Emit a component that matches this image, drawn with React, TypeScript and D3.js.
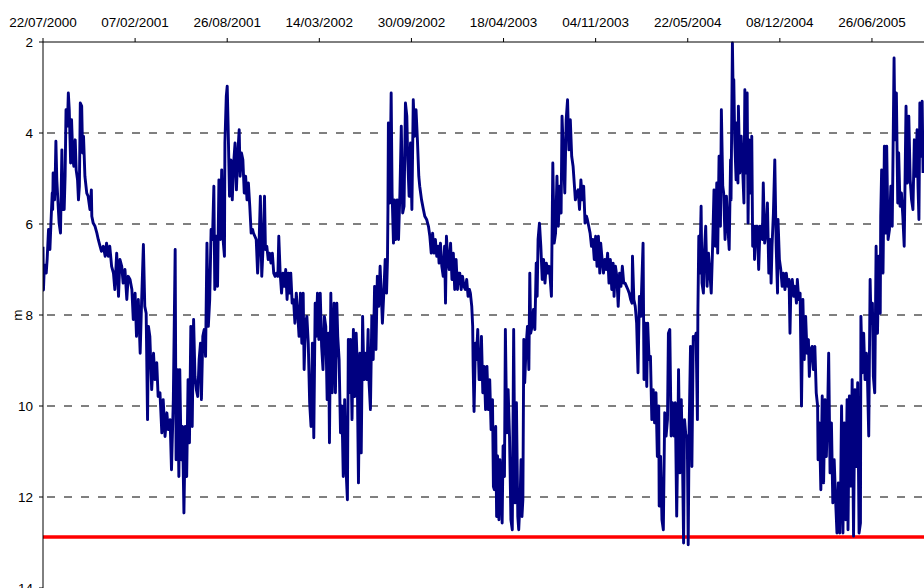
import React from "react";
import * as d3 from "d3";

// Groundwater level below surface (m), observation day counted from 22/07/2000
const startDate = new Date(Date.UTC(2000, 6, 22));
const spanDays = 1913;
const tickStepDays = 200;
const tickCount = 10;
const yTicks = [2, 4, 6, 8, 10, 12, 14];
const gridLevels = [4, 6, 8, 10, 12];
const thresholdLevel = 12.88;
const axisTitle = "m";

const levelsJul2000: [number, number][] = [
  [0, 6.5], [1, 7.45], [3, 6.9], [7, 7.08], [9, 6.78], [12, 6.12], [15, 6.56], [17, 6.05], [20, 5.32], [21, 5.68],
  [22, 4.88], [25, 5.47], [27, 4.73], [28, 4.18], [30, 5.03], [33, 5.61], [35, 5.98], [38, 6.2], [41, 4.37], [43, 5.68],
  [46, 5.68], [48, 4.95], [50, 3.49], [53, 3.85], [55, 3.12], [57, 3.49], [60, 4.66], [62, 3.71], [65, 4.59], [67, 4.73],
  [70, 4.15], [72, 4.81], [75, 5.03], [77, 5.47], [79, 5.17], [81, 3.34], [84, 3.41], [86, 4.44], [88, 4.07], [91, 4.95],
  [95, 5.32], [98, 5.39], [102, 5.68], [105, 5.25], [106, 5.83], [109, 5.98], [113, 6.05], [117, 6.2], [120, 6.34], [124, 6.49],
  [127, 6.6], [131, 6.49], [135, 6.71], [138, 6.42], [142, 6.71], [145, 6.49], [149, 6.93], [153, 7.08], [156, 7.44], [160, 6.64],
  [164, 7.59], [167, 6.78], [171, 6.93], [174, 7.3], [178, 7.0], [182, 7.66], [185, 7.15], [189, 7.22], [193, 7.44], [196, 8.1],
  [200, 7.52], [203, 8.47], [207, 7.66], [211, 8.84], [214, 7.74], [218, 6.45], [221, 7.81], [224, 7.96], [227, 10.3], [229, 8.25],
  [232, 8.47], [236, 9.64], [240, 8.84], [243, 9.42], [247, 9.05], [250, 9.79], [254, 9.71], [258, 10.59], [261, 9.86], [265, 10.67],
  [269, 10.15], [272, 10.52], [276, 10.3], [279, 11.4], [283, 9.86], [287, 6.56], [289, 11.18], [292, 9.2], [295, 11.55], [297, 9.2],
  [300, 11.18], [303, 10.45], [306, 12.35], [309, 10.45], [312, 11.55], [315, 9.42],
];

const levelsJun2001: [number, number][] = [
  [318, 10.81], [321, 8.25], [324, 10.45], [327, 8.1], [330, 9.35], [333, 9.64], [336, 9.79], [339, 8.98], [342, 8.62], [344, 9.86],
  [347, 8.47], [350, 8.32], [353, 8.91], [356, 6.42], [359, 8.25], [362, 7.66], [365, 6.12], [368, 6.34], [371, 5.17], [373, 7.44],
  [376, 6.27], [379, 7.37], [382, 5.03], [385, 6.34], [388, 4.81], [391, 6.34], [394, 6.71], [395, 4.22], [398, 3.19], [400, 2.97],
  [402, 3.85], [405, 5.39], [408, 4.59], [411, 5.47], [414, 4.66], [417, 4.22], [420, 5.25], [423, 4.44], [426, 3.93], [428, 4.95],
  [431, 4.44], [434, 4.59], [437, 5.32], [440, 4.95], [443, 5.47], [446, 5.1], [449, 5.61], [452, 6.2], [455, 6.12], [457, 6.2],
  [460, 6.27], [463, 6.34], [466, 7.08], [469, 6.49], [472, 5.39], [475, 7.15], [478, 6.49], [481, 5.39], [483, 6.56], [486, 6.49],
  [489, 6.78], [492, 6.64], [495, 6.86], [498, 6.64], [501, 7.08], [504, 7.15], [507, 7.08], [510, 7.15], [512, 6.27], [515, 7.08],
  [518, 7.52], [521, 7.08], [524, 7.37], [527, 7.0], [530, 7.66], [533, 7.08], [536, 7.52], [538, 7.08], [541, 7.74], [544, 7.66],
  [547, 8.18], [550, 7.52], [553, 7.96], [556, 8.47], [559, 7.52], [562, 8.62], [565, 7.52], [567, 9.2], [570, 8.18], [573, 8.03],
  [576, 8.62], [579, 9.93], [582, 10.45], [585, 8.62], [588, 10.7], [591, 7.74], [593, 8.47], [596, 7.52], [599, 8.54], [602, 7.52],
  [605, 8.69], [608, 9.2], [611, 8.03], [614, 8.25], [617, 9.86], [620, 8.4], [622, 10.81], [625, 7.52], [628, 9.71],
];

const levelsApr2002: [number, number][] = [
  [632, 7.74], [635, 9.71], [638, 7.74], [640, 8.47], [643, 8.98], [646, 10.59], [649, 10.0], [652, 11.55], [655, 9.86], [658, 11.4],
  [661, 12.06], [663, 8.54], [665, 9.71], [668, 8.54], [671, 10.3], [674, 8.32], [677, 9.79], [680, 8.4], [682, 8.98], [685, 11.69],
  [688, 8.84], [691, 11.03], [694, 8.03], [697, 9.42], [700, 8.84], [703, 9.42], [706, 8.32], [708, 9.49], [711, 10.08], [714, 8.03],
  [717, 8.98], [720, 7.37], [723, 8.76], [726, 7.15], [729, 7.81], [732, 6.93], [735, 7.66], [737, 8.18], [740, 7.52], [743, 6.78],
  [746, 7.52], [748, 6.78], [749, 5.68], [750, 3.78], [753, 5.54], [756, 3.12], [758, 5.32], [761, 6.42], [763, 5.47], [766, 6.34],
  [769, 5.47], [772, 6.34], [775, 5.32], [778, 3.85], [781, 5.76], [784, 5.61], [787, 3.34], [790, 3.63], [792, 4.59], [795, 5.39],
  [798, 4.22], [801, 5.68], [804, 3.27], [807, 4.07], [810, 3.49], [813, 4.15], [816, 4.95], [818, 5.17], [822, 5.47], [826, 5.68],
  [829, 5.83], [833, 5.9], [837, 6.05], [840, 6.27], [843, 6.64], [846, 6.2], [849, 6.64], [852, 6.34], [855, 6.71], [858, 6.49],
  [860, 6.86], [863, 6.42], [866, 6.93], [869, 7.15], [872, 6.49], [874, 7.74], [876, 6.27], [879, 6.78], [882, 7.0], [885, 6.42],
  [888, 7.22], [891, 6.64], [894, 7.44], [897, 6.78], [900, 7.44], [902, 7.08], [905, 7.08], [908, 7.44], [911, 7.15], [914, 7.37],
  [917, 7.44], [920, 7.22], [923, 7.59], [926, 7.44], [928, 7.52], [931, 7.81], [933, 8.25], [934, 9.13], [936, 10.12], [939, 8.62],
  [941, 8.98], [944, 8.32], [947, 9.42],
];

const levelsFeb2003: [number, number][] = [
  [950, 9.42], [952, 8.47], [955, 9.71], [958, 9.13], [961, 10.08], [964, 9.13], [967, 10.08], [970, 9.42], [973, 10.52], [976, 9.86],
  [978, 11.77], [980, 11.84], [983, 10.45], [985, 12.43], [987, 11.1], [990, 12.5], [992, 11.18], [994, 11.55], [997, 12.57], [999, 10.88],
  [1002, 11.55], [1004, 8.32], [1007, 10.59], [1010, 9.64], [1013, 10.67], [1016, 12.5], [1019, 12.72], [1022, 8.32], [1025, 12.13], [1028, 9.93],
  [1031, 12.43], [1033, 12.72], [1036, 12.06], [1038, 11.18], [1040, 12.43], [1042, 12.06], [1044, 8.54], [1046, 9.49], [1049, 8.69], [1052, 8.25],
  [1055, 9.2], [1057, 7.08], [1059, 8.4], [1062, 8.25], [1065, 7.88], [1068, 8.32], [1071, 6.86], [1073, 7.59], [1075, 6.34], [1078, 5.98],
  [1081, 6.49], [1084, 7.22], [1087, 6.78], [1090, 7.3], [1093, 6.86], [1096, 7.08], [1099, 6.93], [1101, 7.15], [1104, 7.59], [1107, 4.66],
  [1110, 6.42], [1113, 6.2], [1116, 4.95], [1119, 6.05], [1122, 5.17], [1125, 5.76], [1127, 3.63], [1130, 4.44], [1133, 5.32], [1136, 3.71],
  [1139, 3.27], [1142, 4.37], [1145, 3.71], [1148, 4.51], [1151, 4.73], [1154, 5.17], [1156, 5.47], [1159, 5.32], [1162, 5.25], [1165, 5.68],
  [1168, 5.03], [1171, 5.47], [1174, 5.17], [1177, 5.98], [1180, 5.83], [1182, 5.9], [1185, 6.05], [1188, 6.2], [1191, 6.49], [1194, 6.34],
  [1197, 6.78], [1200, 6.27], [1203, 6.93], [1206, 6.27], [1209, 7.08], [1211, 6.42], [1214, 6.78], [1217, 7.08], [1220, 6.78], [1223, 7.0],
  [1226, 6.64], [1229, 7.3], [1232, 6.78], [1235, 7.44], [1238, 6.86], [1240, 7.59], [1243, 6.93], [1246, 7.15], [1249, 7.81], [1252, 7.08],
  [1255, 7.37], [1258, 6.93], [1261, 7.3],
];

const levelsJan2004: [number, number][] = [
  [1264, 7.3], [1267, 7.37], [1270, 7.44], [1273, 7.52], [1276, 7.66], [1279, 7.74], [1280, 6.71], [1283, 7.66], [1286, 7.81], [1289, 8.18],
  [1292, 9.27], [1295, 7.59], [1298, 8.03], [1300, 7.37], [1303, 6.42], [1305, 9.42], [1308, 8.18], [1311, 9.57], [1313, 8.18], [1316, 8.98],
  [1319, 8.91], [1322, 10.3], [1325, 9.64], [1328, 10.37], [1331, 9.71], [1334, 11.11], [1337, 10.0], [1338, 12.2], [1341, 11.11], [1344, 12.5],
  [1347, 12.72], [1350, 10.15], [1353, 10.66], [1356, 10.3], [1358, 8.4], [1361, 8.32], [1364, 10.66], [1367, 9.93], [1370, 10.66], [1373, 9.93],
  [1376, 12.42], [1379, 10.3], [1380, 9.2], [1383, 11.47], [1386, 9.86], [1389, 11.47], [1391, 13.01], [1393, 10.3], [1396, 10.66], [1399, 10.66],
  [1401, 13.05], [1403, 10.52], [1406, 8.69], [1409, 11.33], [1412, 8.47], [1415, 8.54], [1418, 8.4], [1421, 10.3], [1422, 7.96], [1424, 6.27],
  [1426, 7.08], [1429, 5.61], [1431, 7.3], [1434, 7.52], [1436, 6.64], [1439, 6.05], [1442, 7.37], [1445, 6.64], [1448, 7.08], [1451, 7.52],
  [1454, 6.49], [1457, 5.25], [1460, 6.49], [1463, 5.1], [1465, 6.64], [1468, 4.51], [1471, 6.05], [1473, 3.49], [1476, 5.17], [1478, 5.32],
  [1481, 6.34], [1484, 5.39], [1487, 6.05], [1490, 6.56], [1493, 4.59], [1494, 5.47], [1497, 2.02], [1499, 3.41], [1500, 2.83], [1502, 4.15],
  [1505, 5.03], [1506, 3.78], [1509, 5.1], [1510, 3.41], [1513, 4.88], [1516, 4.07], [1519, 4.73], [1522, 5.54], [1524, 3.05], [1526, 4.88],
  [1529, 3.12], [1531, 5.98], [1533, 4.15], [1536, 5.32], [1539, 4.07], [1541, 6.49], [1544, 6.05], [1545, 6.78], [1548, 6.05], [1551, 6.05],
  [1554, 7.0], [1557, 6.05], [1560, 6.12], [1562, 6.34], [1564, 5.1], [1567, 6.42], [1570, 6.2], [1573, 5.54],
];

const levelsNov2004: [number, number][] = [
  [1576, 7.08], [1579, 6.34], [1581, 7.3], [1583, 6.49], [1586, 5.76], [1589, 4.59], [1592, 6.49], [1595, 7.52], [1596, 5.9], [1599, 6.78],
  [1602, 7.0], [1605, 7.37], [1608, 7.08], [1611, 7.44], [1614, 7.08], [1617, 7.37], [1620, 7.22], [1622, 8.4], [1624, 7.37], [1627, 7.22],
  [1630, 7.59], [1633, 7.37], [1636, 7.74], [1638, 7.22], [1641, 7.66], [1644, 7.52], [1647, 10.0], [1650, 7.66], [1653, 8.98], [1656, 8.03],
  [1659, 8.84], [1662, 8.54], [1664, 9.35], [1667, 8.76], [1670, 8.69], [1673, 9.2], [1676, 8.69], [1679, 9.71], [1682, 10.0], [1683, 11.18],
  [1686, 10.37], [1689, 11.84], [1692, 9.78], [1695, 11.69], [1698, 9.86], [1701, 11.11], [1704, 10.0], [1706, 8.84], [1709, 11.47], [1712, 10.37],
  [1715, 12.13], [1718, 11.18], [1721, 12.06], [1724, 12.79], [1727, 11.69], [1730, 12.79], [1732, 11.84], [1734, 10.0], [1737, 12.79], [1740, 10.37],
  [1743, 12.5], [1746, 9.86], [1748, 12.72], [1751, 9.78], [1754, 11.76], [1757, 9.42], [1760, 12.86], [1763, 9.64], [1766, 11.33], [1769, 9.49],
  [1772, 12.79], [1775, 12.57], [1776, 8.03], [1779, 9.27], [1782, 8.4], [1785, 9.42], [1788, 8.84], [1790, 9.27], [1793, 10.66], [1796, 7.22],
  [1798, 8.18], [1801, 7.74], [1803, 9.35], [1806, 9.71], [1809, 6.49], [1812, 8.4], [1815, 6.71], [1818, 7.96], [1819, 5.83], [1821, 4.81],
  [1824, 7.08], [1827, 4.29], [1830, 6.2], [1832, 4.29], [1835, 6.34], [1838, 6.12], [1841, 5.17], [1844, 6.05], [1845, 5.17], [1848, 2.35],
  [1850, 4.15], [1853, 3.12], [1856, 5.54], [1858, 4.44], [1861, 5.61], [1864, 5.32], [1867, 5.83], [1870, 6.49], [1873, 4.15], [1874, 3.41],
  [1877, 5.1], [1880, 3.63], [1883, 5.03], [1886, 5.47], [1889, 5.68], [1892, 4.15], [1895, 4.95], [1898, 3.93], [1900, 5.17], [1902, 5.9],
  [1904, 3.34], [1906, 4.51], [1909, 3.3], [1911, 4.88],
];

const allLevels = [
  ...levelsJul2000,
  ...levelsJun2001,
  ...levelsApr2002,
  ...levelsFeb2003,
  ...levelsJan2004,
  ...levelsNov2004,
];

const W = 924;
const H = 588;
const margin = { left: 43, top: 42 };
const font = "'Liberation Sans', Arial, sans-serif";

export default function App() {
  const x = d3
    .scaleUtc()
    .domain([startDate, d3.utcDay.offset(startDate, spanDays)])
    .range([margin.left, W]);
  const y = d3.scaleLinear().domain([2, 14]).range([margin.top, H]);

  const dayToDate = (d: number) => d3.utcDay.offset(startDate, d);
  const line = d3
    .line<[number, number]>()
    .x((d) => x(dayToDate(d[0])))
    .y((d) => y(d[1]));

  const xTicks = d3.range(tickCount).map((i) => dayToDate(i * tickStepDays));
  const fmt = d3.utcFormat("%d/%m/%Y");

  return (
    <svg
      width={W}
      height={H}
      style={{ position: "absolute", left: 0, top: 0, background: "#fff" }}
      fontFamily={font}
    >
      <defs>
        <clipPath id="plotArea">
          <rect x={margin.left} y={margin.top - 2} width={W - margin.left} height={H - margin.top + 2} />
        </clipPath>
      </defs>

      {gridLevels.map((v) => (
        <line
          key={`g${v}`}
          x1={margin.left}
          x2={W}
          y1={y(v)}
          y2={y(v)}
          stroke="#000"
          strokeWidth={1}
          strokeDasharray="8,9"
          strokeDashoffset={-4}
        />
      ))}

      <line
        x1={margin.left}
        x2={W}
        y1={y(thresholdLevel)}
        y2={y(thresholdLevel)}
        stroke="#ff0000"
        strokeWidth={3.5}
      />

      <path
        d={line(allLevels) ?? ""}
        fill="none"
        stroke="#000080"
        strokeWidth={2.9}
        strokeLinejoin="round"
        clipPath="url(#plotArea)"
      />

      {/* top date axis */}
      <line x1={margin.left} x2={W} y1={margin.top} y2={margin.top} stroke="#000" strokeWidth={1} />
      {xTicks.map((t, i) => (
        <g key={`x${i}`}>
          <line x1={x(t)} x2={x(t)} y1={margin.top - 4} y2={margin.top} stroke="#000" strokeWidth={1} />
          <text x={x(t)} y={27} textAnchor="middle" fontSize={13.5} fill="#000">
            {fmt(t)}
          </text>
        </g>
      ))}

      {/* left depth axis */}
      <line x1={margin.left} x2={margin.left} y1={margin.top} y2={H} stroke="#000" strokeWidth={1} />
      {yTicks.map((v) => (
        <g key={`y${v}`}>
          <line x1={margin.left - 4} x2={margin.left} y1={y(v)} y2={y(v)} stroke="#000" strokeWidth={1} />
          <text x={33} y={y(v)} dy="0.36em" textAnchor="end" fontSize={13.5} fill="#000">
            {v}
          </text>
        </g>
      ))}
      <text
        transform={`translate(22, ${y(8)}) rotate(-90)`}
        textAnchor="middle"
        fontSize={13.5}
        fill="#000"
      >
        {axisTitle}
      </text>
    </svg>
  );
}
